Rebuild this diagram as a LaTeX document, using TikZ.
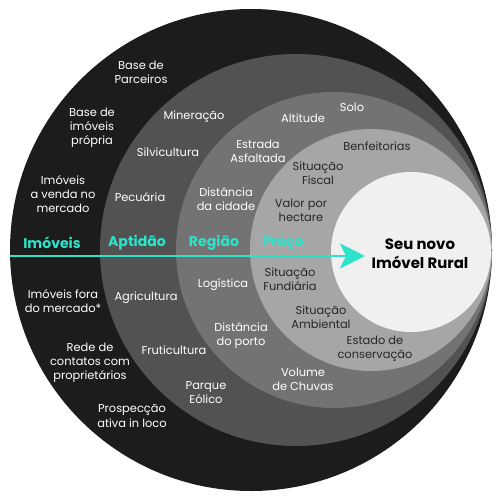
\documentclass[tikz,border=0pt]{standalone}
\usepackage{fontspec}
\setmainfont{Poppins}
\usepackage{tikz}
\usepackage{xcolor}
\usetikzlibrary{arrows.meta}

\definecolor{ringblack}{HTML}{1C1C1C}
\definecolor{ringdark}{HTML}{525252}
\definecolor{ringmid}{HTML}{737373}
\definecolor{ringlight}{HTML}{A6A6A6}
\definecolor{ringwhite}{HTML}{F0F0F0}
\definecolor{teal}{HTML}{2EE3CB}

\begin{document}
\begin{tikzpicture}[x=0.02cm, y=-0.02cm,
        lbl/.style={align=center, inner sep=0pt, text=white,
                    font=\fontsize{6.5}{8}\selectfont},
        dlbl/.style={lbl, text=black!85},
        stage/.style={inner sep=0pt, text=teal, font=\fontsize{8}{9}\selectfont\bfseries},
        goal/.style={align=center, inner sep=0pt, text=black,
                     font=\fontsize{8.5}{11}\selectfont\bfseries},
        flow/.style={teal, line width=1.7pt, -{Stealth[length=5mm, width=5mm, inset=1.2mm]}}
    ]
        \useasboundingbox (0,0) rectangle (500,500);

        % Rings
        \fill[ringblack] (251,250) circle (241);
        \fill[ringdark]  (296,250) circle (196);
        \fill[ringmid]   (334,250) circle (158);
        \fill[ringlight] (371,250) circle (121);
        \fill[ringwhite] (411,252) circle (80);

        % Imoveis
        \node[lbl] (parceiros) at (141,72) {Base de\\Parceiros};
        \node[lbl] (baseprop) at (92,128) {Base de\\imóveis\\própria};
        \node[lbl] (avenda) at (63,194) {Imóveis\\a venda no\\mercado};
        \node[lbl] (fora) at (63,301) {Imóveis fora\\do mercado*};
        \node[lbl] (rede) at (90,363) {Rede de\\contatos com\\proprietários};
        \node[lbl] (prosp) at (132,416) {Prospecção\\ativa in loco};

        % Aptidao
        \node[lbl] (mineracao) at (194,117) {Mineração};
        \node[lbl] (silvi) at (168,152) {Silvicultura};
        \node[lbl] (pecuaria) at (140,197) {Pecuária};
        \node[lbl] (agri) at (146,298) {Agricultura};
        \node[lbl] (fruti) at (174,350) {Fruticultura};
        \node[lbl] (eolico) at (206,393) {Parque\\Eólico};

        % Regiao
        \node[lbl] (altitude) at (303,118) {Altitude};
        \node[lbl] (solo) at (352,107) {Solo};
        \node[lbl] (estrada) at (258,151) {Estrada\\Asfaltada};
        \node[lbl] (distcidade) at (226,199) {Distância\\da cidade};
        \node[lbl] (logistica) at (223,285) {Logística};
        \node[lbl] (distporto) at (241,336) {Distância\\do porto};
        \node[lbl] (chuvas) at (303,379) {Volume\\de Chuvas};

        % Preco
        \node[dlbl] (benfeit) at (377,146) {Benfeitorias};
        \node[dlbl] (fiscal) at (318,173) {Situação\\Fiscal};
        \node[dlbl] (valor) at (301,210) {Valor por\\hectare};
        \node[dlbl] (fundiaria) at (290,279) {Situação\\Fundiária};
        \node[dlbl] (ambiental) at (321,317) {Situação\\Ambiental};
        \node[dlbl] (estado) at (375,349) {Estado de\\conservação};

        % Stages and arrow
        \node[stage] (imoveis) at (52,243) {Imóveis};
        \node[stage] (aptidao) at (137,243) {Aptidão};
        \node[stage] (regiao) at (214,243) {Região};
        \node[stage] (preco) at (283,243) {Preço};
        \coordinate (arrowstart) at (10,256);
        \coordinate (arrowtip) at (365,256);
        \draw[flow] (arrowstart) -- (arrowtip);

        % Goal
        \node[goal] (novo) at (420,254) {Seu novo\\Imóvel Rural};
    \end{tikzpicture}
\end{document}
